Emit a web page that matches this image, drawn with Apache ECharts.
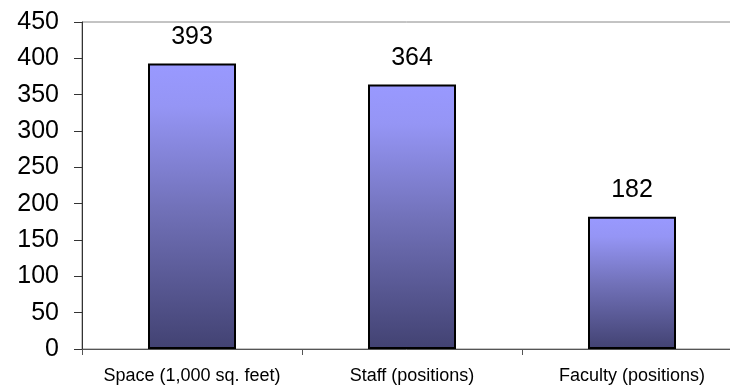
<!DOCTYPE html>
<html>
<head>
<meta charset="utf-8">
<script src="https://cdn.jsdelivr.net/npm/echarts@6/dist/echarts.min.js"></script>
<style>
html,body{margin:0;padding:0;background:#fff;}
#chart{width:730px;height:387px;}
</style>
</head>
<body>
<div id="chart"></div>
<script>
const categories = ["Space (1,000 sq. feet)", "Staff (positions)", "Faculty (positions)"];
const values = [393, 364, 182];
const yTicks = [0, 50, 100, 150, 200, 250, 300, 350, 400, 450];

const chart = echarts.init(document.getElementById('chart'), null, {renderer: 'canvas'});
chart.setOption({
  animation: false,
  backgroundColor: '#ffffff',
  grid: {
    left: 82, top: 22, bottom: 38, width: 660,
    outerBoundsMode: 'none', containLabel: false,
    show: true, borderColor: '#888888', borderWidth: 1, backgroundColor: 'transparent'
  },
  xAxis: {
    type: 'category',
    data: categories,
    axisLine: {show: true, lineStyle: {color: '#555555', width: 1}},
    axisTick: {show: true, interval: 0, alignWithLabel: false, length: 6, lineStyle: {color: '#555555'}},
    axisLabel: {
      color: '#000000', fontFamily: 'Liberation Sans, Arial, sans-serif',
      fontSize: 18, margin: 18, interval: 0, hideOverlap: false
    }
  },
  yAxis: {
    type: 'value',
    min: yTicks[0], max: yTicks[yTicks.length - 1], interval: 50,
    axisLine: {show: true, lineStyle: {color: '#333333', width: 1}},
    axisTick: {show: true, length: 8, lineStyle: {color: '#333333'}},
    splitLine: {show: false},
    axisLabel: {
      color: '#000000', fontFamily: 'Liberation Sans, Arial, sans-serif',
      fontSize: 25, margin: 23
    }
  },
  series: [{
    type: 'bar',
    data: values,
    barWidth: 88,
    itemStyle: {
      borderColor: '#000000', borderWidth: 2,
      color: new echarts.graphic.LinearGradient(0, 0, 0, 1, [
        {offset: 0, color: '#9999ff'},
        {offset: 0.15, color: '#9595f5'},
        {offset: 0.5, color: '#7272ba'},
        {offset: 1, color: '#424272'}
      ])
    },
    label: {
      show: true, position: 'top', distance: 14,
      color: '#000000', fontFamily: 'Liberation Sans, Arial, sans-serif', fontSize: 25
    }
  }]
});
</script>
</body>
</html>
